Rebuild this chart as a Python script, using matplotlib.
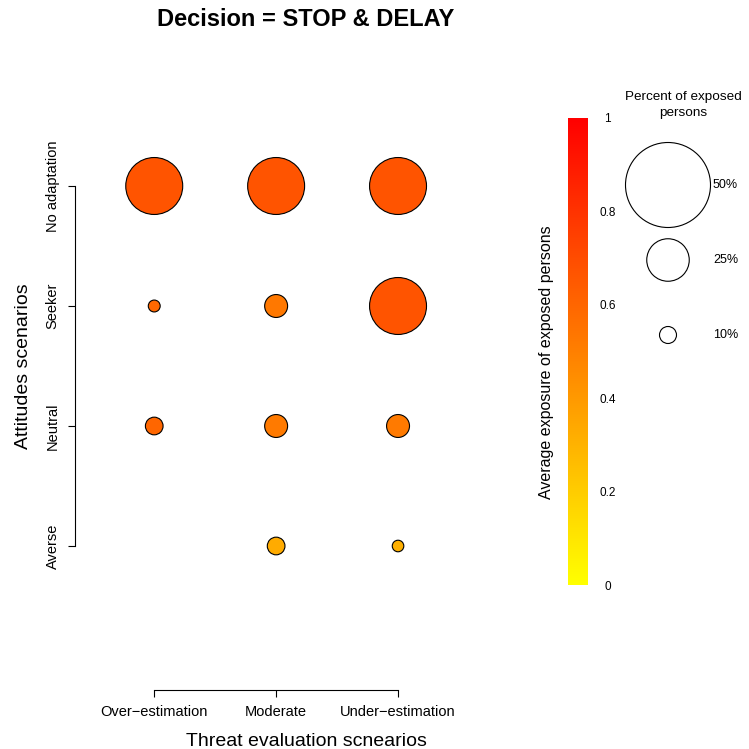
import numpy as np
import matplotlib
matplotlib.use('Agg')
import matplotlib.pyplot as plt
from matplotlib.colors import LinearSegmentedColormap, Normalize
from matplotlib.cm import ScalarMappable

plt.rcParams['font.family'] = ['Liberation Sans', 'DejaVu Sans']

# 数据
threat_labels = ['Over\u2212estimation', 'Moderate', 'Under\u2212estimation']
attitude_labels = ['Averse', 'Neutral', 'Seeker', 'No adaptation']

# percent of exposed persons (per attitude row, columns = threat scenarios)
pct_averse = [0, 10.4, 6.8]
pct_neutral = [10.4, 13.5, 13.5]
pct_seeker = [7, 13.5, 33.5]
pct_noadapt = [33.5, 33.5, 33.5]

# average exposure of exposed persons
exp_averse = [np.nan, 0.33, 0.31]
exp_neutral = [0.60, 0.52, 0.52]
exp_seeker = [0.59, 0.53, 0.67]
exp_noadapt = [0.67, 0.67, 0.67]

legend_pct = [50, 25, 10]

W = 749
PX_PER_PCT = 0.85


def px_box(left, top, right, bottom):
    return [left / W, 1 - bottom / W, (right - left) / W, (bottom - top) / W]


def size_pts(pct):
    # marker area (points^2) from radius in pixels
    r = PX_PER_PCT * np.asarray(pct, dtype=float)
    return (2 * r * 72 / 100) ** 2


cmap = LinearSegmentedColormap.from_list('yr', ['#FFFF00', '#FF0000'])
norm = Normalize(0, 1)

fig = plt.figure(figsize=(7.49, 7.49), dpi=100)

# 主图
ax = fig.add_axes(px_box(75, 42, 537, 690))
rows = [pct_averse, pct_neutral, pct_seeker, pct_noadapt]
cols = [exp_averse, exp_neutral, exp_seeker, exp_noadapt]
for i, (p, e) in enumerate(zip(rows, cols)):
    xs = np.arange(1, len(threat_labels) + 1)
    ys = np.full(len(xs), i + 1)
    p = np.asarray(p, dtype=float)
    e = np.asarray(e, dtype=float)
    keep = p > 0
    ax.scatter(xs[keep], ys[keep], s=size_pts(p[keep]), c=cmap(norm(e[keep])),
               edgecolors='black', linewidths=0.8, zorder=3)

ax.set_xlim(0.35, 4.14)
ax.set_ylim(-0.2, 5.2)
for s in ['top', 'right']:
    ax.spines[s].set_visible(False)
ax.spines['left'].set_bounds(1, len(attitude_labels))
ax.spines['bottom'].set_bounds(1, len(threat_labels))
ax.spines['left'].set_linewidth(0.8)
ax.spines['bottom'].set_linewidth(0.8)
ax.set_xticks(range(1, len(threat_labels) + 1))
ax.set_xticklabels(threat_labels, fontsize=10.5)
ax.set_yticks(range(1, len(attitude_labels) + 1))
ax.set_yticklabels(attitude_labels, fontsize=10.5, rotation=90, va='center')
ax.tick_params(length=5, width=0.8, pad=6)
ax.set_xlabel('Threat evaluation scnearios', fontsize=14, labelpad=10)
ax.set_ylabel('Attitudes scenarios', fontsize=14, labelpad=10)
ax.patch.set_alpha(0)
fig.text(306 / W, 1 - 20 / W, 'Decision = STOP & DELAY', ha='center',
         va='center', fontsize=17, fontweight='bold')

# 颜色条
cax = fig.add_axes(px_box(568, 118, 588, 585))
cb = fig.colorbar(ScalarMappable(norm=norm, cmap=cmap), cax=cax)
cb.outline.set_visible(False)
cb.set_ticks([0, 0.2, 0.4, 0.6, 0.8, 1])
cb.set_ticklabels(['0', '0.2', '0.4', '0.6', '0.8', '1'])
cax.tick_params(length=0, pad=14, labelsize=8.5)
for t in cax.get_yticklabels():
    t.set_ha('center')
fig.text(547 / W, 1 - 362 / W, 'Average exposure of exposed persons',
         rotation=90, ha='center', va='center', fontsize=11.5)

# 气泡大小图例
lax = fig.add_axes([0, 0, 1, 1])
lax.set_xlim(0, W)
lax.set_ylim(W, 0)
lax.axis('off')
leg_y = [185, 260, 335]
lax.scatter([668] * len(legend_pct), leg_y, s=size_pts(legend_pct),
            facecolors='white', edgecolors='black', linewidths=0.8)
for p, y in zip(legend_pct, leg_y):
    lax.text(713, y, '%d%%' % p, ha='left', va='center', fontsize=9)
lax.text(683, 105, 'Percent of exposed\npersons', ha='center', va='center',
         fontsize=9.7, linespacing=1.35)

plt.savefig('out.png', dpi=100)
